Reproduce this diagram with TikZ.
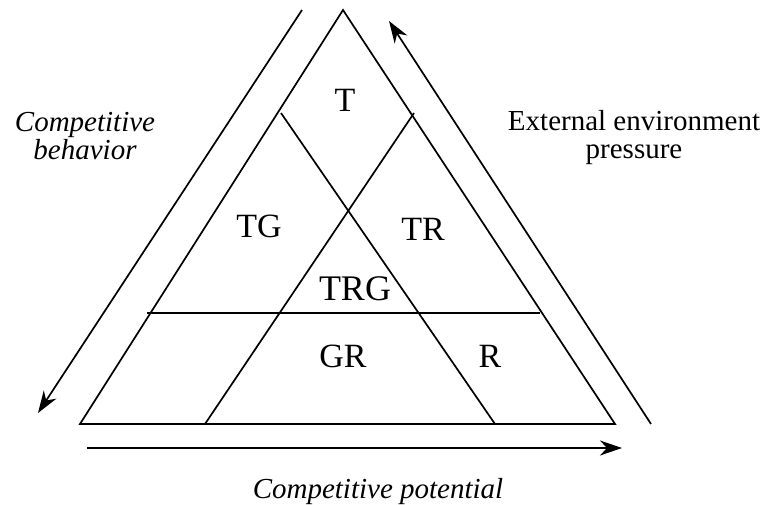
\documentclass[tikz,border=0pt]{standalone}
\usepackage{fontspec}
\setmainfont{Liberation Serif}
\usetikzlibrary{arrows.meta}
\begin{document}
\begin{tikzpicture}[x=1pt, y=-1pt, line width=1.7pt, line join=miter,
  axisarrow/.style={-{Stealth[length=22pt, width=15pt, inset=7pt]}},
  region/.style={font=\fontsize{34}{34}\selectfont, anchor=base, inner sep=0pt},
  caption/.style={font=\fontsize{29}{28}\selectfont, align=center, anchor=base, inner sep=0pt},
]
\useasboundingbox (0,0) rectangle (764,504);

% corners of the triangle
\coordinate (apex) at (343,10);
\coordinate (bl)   at (80,424);
\coordinate (br)   at (615,424);

% inner dividing lines
\coordinate (a1) at (281,113);
\coordinate (a2) at (495,424);
\coordinate (b1) at (414,113);
\coordinate (b2) at (205,424);
\coordinate (h1) at (147,313);
\coordinate (h2) at (540,313);

% ends of the three axes
\coordinate (ls) at (302,10);
\coordinate (le) at (38,413);
\coordinate (rs) at (651,424);
\coordinate (re) at (389,21);
\coordinate (bs) at (87,448);
\coordinate (be) at (622,448);

% triangle and its partition
\draw (apex) -- (br) -- (bl) -- cycle;
\draw (a1) -- (a2);
\draw (b1) -- (b2);
\draw (h1) -- (h2);

% axes around the triangle
\draw[axisarrow] (ls) -- (le);
\draw[axisarrow] (rs) -- (re);
\draw[axisarrow] (bs) -- (be);

% region labels
\node[region] (t)   at (345,111) {T};
\node[region] (tg)  at (259,237) {TG};
\node[region] (tr)  at (423,240) {TR};
\node[region, font=\fontsize{36}{36}\selectfont] (trg) at (355,300) {TRG};
\node[region] (gr)  at (343,367) {GR};
\node[region] (r)   at (490,367) {R};

% axis captions (anchored at the baseline of the last line)
\node[caption, font=\fontsize{29}{28}\selectfont\itshape] (behav) at (85,159) {Competitive\\behavior};
\node[caption] (press) at (634,158) {External environment\\pressure};
\node[caption, font=\fontsize{29}{28}\selectfont\itshape] (poten) at (378,498) {Competitive potential};
\end{tikzpicture}
\end{document}
